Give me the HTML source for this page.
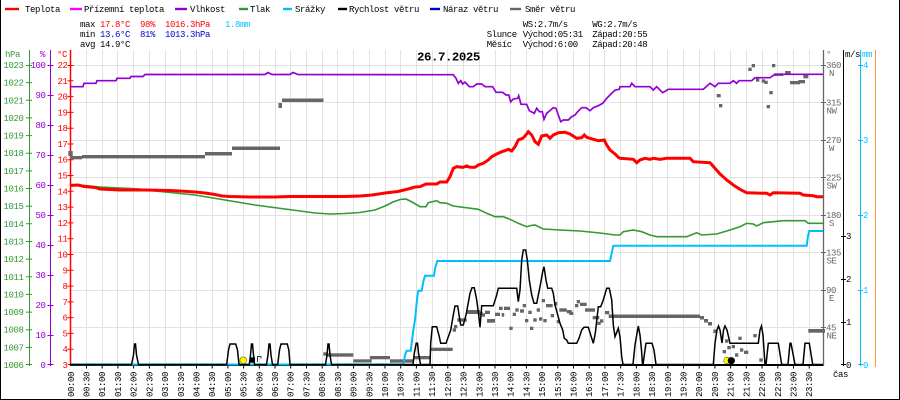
<!DOCTYPE html>
<html><head><meta charset="utf-8">
<style>
html,body{margin:0;padding:0;background:#fff;}
svg{display:block;}
text{font-family:"Liberation Mono","DejaVu Sans Mono",monospace;font-size:9px;letter-spacing:-0.4px;}
.b{font-weight:bold;font-size:12.4px;letter-spacing:-0.45px;}
</style></head><body>
<svg width="900" height="400" viewBox="0 0 900 400" xmlns="http://www.w3.org/2000/svg">
<rect width="900" height="400" fill="#fff"/>
<!-- border -->
<path d="M0.5 0V399.5H899.5V0" fill="none" stroke="#000" stroke-width="1"/>

<!-- grid -->
<g fill="#e2e2e2">
<rect x="86" y="50" width="1" height="315"/><rect x="102" y="50" width="1" height="315"/><rect x="117" y="50" width="1" height="315"/><rect x="133" y="50" width="1" height="315"/><rect x="149" y="50" width="1" height="315"/><rect x="165" y="50" width="1" height="315"/><rect x="180" y="50" width="1" height="315"/><rect x="196" y="50" width="1" height="315"/><rect x="212" y="50" width="1" height="315"/><rect x="227" y="50" width="1" height="315"/><rect x="243" y="50" width="1" height="315"/><rect x="259" y="50" width="1" height="315"/><rect x="275" y="50" width="1" height="315"/><rect x="290" y="50" width="1" height="315"/><rect x="306" y="50" width="1" height="315"/><rect x="322" y="50" width="1" height="315"/><rect x="337" y="50" width="1" height="315"/><rect x="353" y="50" width="1" height="315"/><rect x="369" y="50" width="1" height="315"/><rect x="385" y="50" width="1" height="315"/><rect x="400" y="50" width="1" height="315"/><rect x="416" y="50" width="1" height="315"/><rect x="432" y="50" width="1" height="315"/><rect x="447" y="50" width="1" height="315"/><rect x="463" y="50" width="1" height="315"/><rect x="479" y="50" width="1" height="315"/><rect x="495" y="50" width="1" height="315"/><rect x="510" y="50" width="1" height="315"/><rect x="526" y="50" width="1" height="315"/><rect x="542" y="50" width="1" height="315"/><rect x="557" y="50" width="1" height="315"/><rect x="573" y="50" width="1" height="315"/><rect x="589" y="50" width="1" height="315"/><rect x="604" y="50" width="1" height="315"/><rect x="620" y="50" width="1" height="315"/><rect x="636" y="50" width="1" height="315"/><rect x="652" y="50" width="1" height="315"/><rect x="667" y="50" width="1" height="315"/><rect x="683" y="50" width="1" height="315"/><rect x="699" y="50" width="1" height="315"/><rect x="714" y="50" width="1" height="315"/><rect x="730" y="50" width="1" height="315"/><rect x="746" y="50" width="1" height="315"/><rect x="762" y="50" width="1" height="315"/><rect x="777" y="50" width="1" height="315"/><rect x="793" y="50" width="1" height="315"/><rect x="809" y="50" width="1" height="315"/>
<rect x="70" y="65" width="753" height="1"/><rect x="70" y="102" width="753" height="1"/><rect x="70" y="140" width="753" height="1"/><rect x="70" y="177" width="753" height="1"/><rect x="70" y="215" width="753" height="1"/><rect x="70" y="252" width="753" height="1"/><rect x="70" y="290" width="753" height="1"/><rect x="70" y="327" width="753" height="1"/>
</g>

<!-- legend -->
<g stroke-width="2.4">
<line x1="5" y1="9" x2="19" y2="9" stroke="#ff0000"/>
<line x1="70" y1="9" x2="82" y2="9" stroke="#ff00ff"/>
<line x1="175" y1="9" x2="187" y2="9" stroke="#9400d3"/>
<line x1="239" y1="9" x2="248" y2="9" stroke="#339933"/>
<line x1="283" y1="9" x2="292" y2="9" stroke="#00bfff"/>
<line x1="338" y1="9" x2="347" y2="9" stroke="#000"/>
<line x1="430" y1="9" x2="440" y2="9" stroke="#0000cc"/>
<line x1="510" y1="9" x2="521" y2="9" stroke="#666"/>
</g>
<text x="25" y="12">Teplota</text>
<text x="84" y="12">Přízemní teplota</text>
<text x="190" y="12">Vlhkost</text>
<text x="250" y="12">Tlak</text>
<text x="295" y="12">Srážky</text>
<text x="349" y="12">Rychlost větru</text>
<text x="443" y="12">Náraz větru</text>
<text x="525" y="12">Směr větru</text>

<!-- stats -->
<text x="80" y="27">max</text>
<text x="100" y="27" fill="#ff0000">17.8°C</text>
<text x="140" y="27" fill="#ff0000">98%</text>
<text x="165" y="27" fill="#ff0000">1016.3hPa</text>
<text x="225" y="27" fill="#00bfff">1.8mm</text>
<text x="80" y="37">min</text>
<text x="100" y="37" fill="#0000cc">13.6°C</text>
<text x="140" y="37" fill="#0000cc">81%</text>
<text x="165" y="37" fill="#0000cc">1013.3hPa</text>
<text x="80" y="47">avg</text>
<text x="100" y="47">14.9°C</text>

<text x="522.7" y="27">WS:2.7m/s</text>
<text x="592.3" y="27">WG:2.7m/s</text>
<text x="486.7" y="37">Slunce</text>
<text x="522.7" y="37">Východ:05:31</text>
<text x="592.3" y="37">Západ:20:55</text>
<text x="486.7" y="47">Měsíc</text>
<text x="522.7" y="47">Východ:6:00</text>
<text x="592.3" y="47">Západ:20:48</text>

<text class="b" x="417" y="60.5">26.7.2025</text>

<!-- axis headers -->
<text x="5" y="57" fill="#339933">hPa</text>
<text x="40" y="57" fill="#9400d3">%</text>
<text x="57" y="57" fill="#ff0000">°C</text>
<text x="826" y="57" fill="#666">°</text>
<text x="845" y="57">m/s</text>
<text x="862" y="57" fill="#00bfff">mm</text>

<!-- axis lines -->
<line x1="29.5" y1="50" x2="29.5" y2="366" stroke="#339933"/>
<line x1="50.5" y1="50" x2="50.5" y2="366" stroke="#9400d3"/>
<line x1="70.5" y1="50" x2="70.5" y2="366" stroke="#ff0000" stroke-width="1.5"/>
<line x1="823.5" y1="50" x2="823.5" y2="366" stroke="#666" stroke-width="1.3"/>
<line x1="843.5" y1="50" x2="843.5" y2="366" stroke="#000"/>
<line x1="860.5" y1="50" x2="860.5" y2="366" stroke="#00bfff"/>
<line x1="875.5" y1="50" x2="875.5" y2="367" stroke="#ff9933"/>

<!-- ticks -->
<path stroke="#339933" d="M26 65.5h6M26 82.6h6M26 100.3h6M26 117.9h6M26 135.6h6M26 153.2h6M26 170.9h6M26 188.5h6M26 206.2h6M26 223.8h6M26 241.5h6M26 259.1h6M26 276.8h6M26 294.4h6M26 312.1h6M26 329.7h6M26 347.4h6M26 364.5h6"/>
<path stroke="#9400d3" d="M47.5 65.5h6M47.5 95.5h6M47.5 125.5h6M47.5 155.5h6M47.5 185.5h6M47.5 215.5h6M47.5 245.5h6M47.5 275.5h6M47.5 305.5h6M47.5 335.5h6M47.5 364.5h6"/>
<path stroke="#ff0000" d="M67.5 65.5h6M67.5 80.8h6M67.5 96.6h6M67.5 112.4h6M67.5 128.2h6M67.5 144h6M67.5 159.7h6M67.5 175.5h6M67.5 191.3h6M67.5 207.1h6M67.5 222.9h6M67.5 238.7h6M67.5 254.5h6M67.5 270.3h6M67.5 286.1h6M67.5 301.9h6M67.5 317.6h6M67.5 333.4h6M67.5 349.2h6M67.5 364.5h6"/>
<path stroke="#666" d="M821 65.5h5M821 102.5h5M821 140.5h5M821 177.5h5M821 215.5h5M821 252.5h5M821 290.5h5M821 327.5h5"/>
<path stroke="#000" d="M841 322.5h5M841 279.5h5M841 236.5h5M841 364.5h5"/>
<path stroke="#00bfff" d="M858 65.5h5M858 140.5h5M858 215.5h5M858 290.5h5M858 364.5h5"/>

<!-- left tick labels -->
<g fill="#339933" text-anchor="end">
<text x="23.5" y="68">1023</text><text x="23.5" y="85.6">1022</text><text x="23.5" y="103.3">1021</text><text x="23.5" y="120.9">1020</text><text x="23.5" y="138.6">1019</text><text x="23.5" y="156.2">1018</text><text x="23.5" y="173.9">1017</text><text x="23.5" y="191.5">1016</text><text x="23.5" y="209.2">1015</text><text x="23.5" y="226.8">1014</text><text x="23.5" y="244.5">1013</text><text x="23.5" y="262.1">1012</text><text x="23.5" y="279.8">1011</text><text x="23.5" y="297.4">1010</text><text x="23.5" y="315.1">1009</text><text x="23.5" y="332.7">1008</text><text x="23.5" y="350.4">1007</text><text x="23.5" y="368">1006</text>
</g>
<g fill="#9400d3" text-anchor="end">
<text x="45.5" y="68">100</text><text x="45.5" y="98">90</text><text x="45.5" y="128">80</text><text x="45.5" y="158">70</text><text x="45.5" y="188">60</text><text x="45.5" y="218">50</text><text x="45.5" y="248">40</text><text x="45.5" y="278">30</text><text x="45.5" y="308">20</text><text x="45.5" y="338">10</text><text x="45.5" y="368">0</text>
</g>
<g fill="#ff0000" text-anchor="end">
<text x="67.5" y="68">22</text><text x="67.5" y="83.8">21</text><text x="67.5" y="99.6">20</text><text x="67.5" y="115.4">19</text><text x="67.5" y="131.2">18</text><text x="67.5" y="147">17</text><text x="67.5" y="162.7">16</text><text x="67.5" y="178.5">15</text><text x="67.5" y="194.3">14</text><text x="67.5" y="210.1">13</text><text x="67.5" y="225.9">12</text><text x="67.5" y="241.7">11</text><text x="67.5" y="257.5">10</text><text x="67.5" y="273.3">9</text><text x="67.5" y="289.1">8</text><text x="67.5" y="304.9">7</text><text x="67.5" y="320.6">6</text><text x="67.5" y="336.4">5</text><text x="67.5" y="352.2">4</text><text x="67.5" y="368">3</text>
</g>

<!-- right tick labels -->
<g fill="#666">
<text x="826" y="68">360</text><text x="826" y="105.5">315</text><text x="826" y="143">270</text><text x="826" y="180.5">225</text><text x="826" y="218">180</text><text x="826" y="255.5">135</text><text x="826" y="293">90</text><text x="826" y="330.5">45</text>
</g>
<g fill="#666" text-anchor="middle">
<text x="831.5" y="76">N</text><text x="831.5" y="113.5">NW</text><text x="831.5" y="151">W</text><text x="831.5" y="188.5">SW</text><text x="831.5" y="226">S</text><text x="831.5" y="263.5">SE</text><text x="831.5" y="301">E</text><text x="831.5" y="338.5">NE</text>
</g>
<g fill="#000">
<text x="846" y="368">0</text><text x="846" y="325">1</text><text x="846" y="282">2</text><text x="846" y="239">3</text>
</g>
<g fill="#00bfff">
<text x="863" y="68">4</text><text x="863" y="143">3</text><text x="863" y="218">2</text><text x="863" y="293">1</text><text x="863" y="368">0</text>
</g>
<text x="833" y="377">čas</text>

<!-- x axis -->
<line x1="70" y1="365" x2="823" y2="365" stroke="#000" stroke-width="2"/>
<path stroke="#000" d="M86.5 366v2.5M102.2 366v2.5M117.9 366v2.5M133.6 366v2.5M149.4 366v2.5M165.1 366v2.5M180.8 366v2.5M196.5 366v2.5M212.2 366v2.5M227.9 366v2.5M243.6 366v2.5M259.3 366v2.5M275 366v2.5M290.7 366v2.5M306.5 366v2.5M322.2 366v2.5M337.9 366v2.5M353.6 366v2.5M369.3 366v2.5M385 366v2.5M400.7 366v2.5M416.4 366v2.5M432.1 366v2.5M447.8 366v2.5M463.6 366v2.5M479.3 366v2.5M495 366v2.5M510.7 366v2.5M526.4 366v2.5M542.1 366v2.5M557.8 366v2.5M573.5 366v2.5M589.2 366v2.5M604.9 366v2.5M620.7 366v2.5M636.4 366v2.5M652.1 366v2.5M667.8 366v2.5M683.5 366v2.5M699.2 366v2.5M714.9 366v2.5M730.6 366v2.5M746.3 366v2.5M762 366v2.5M777.8 366v2.5M793.5 366v2.5M809.2 366v2.5"/>
<g>
<text transform="translate(73.8,397) rotate(-90)">00:00</text>
<text transform="translate(89.5,397) rotate(-90)">00:30</text>
<text transform="translate(105.2,397) rotate(-90)">01:00</text>
<text transform="translate(120.9,397) rotate(-90)">01:30</text>
<text transform="translate(136.6,397) rotate(-90)">02:00</text>
<text transform="translate(152.4,397) rotate(-90)">02:30</text>
<text transform="translate(168.1,397) rotate(-90)">03:00</text>
<text transform="translate(183.8,397) rotate(-90)">03:30</text>
<text transform="translate(199.5,397) rotate(-90)">04:00</text>
<text transform="translate(215.2,397) rotate(-90)">04:30</text>
<text transform="translate(230.9,397) rotate(-90)">05:00</text>
<text transform="translate(246.6,397) rotate(-90)">05:30</text>
<text transform="translate(262.3,397) rotate(-90)">06:00</text>
<text transform="translate(278,397) rotate(-90)">06:30</text>
<text transform="translate(293.7,397) rotate(-90)">07:00</text>
<text transform="translate(309.5,397) rotate(-90)">07:30</text>
<text transform="translate(325.2,397) rotate(-90)">08:00</text>
<text transform="translate(340.9,397) rotate(-90)">08:30</text>
<text transform="translate(356.6,397) rotate(-90)">09:00</text>
<text transform="translate(372.3,397) rotate(-90)">09:30</text>
<text transform="translate(388,397) rotate(-90)">10:00</text>
<text transform="translate(403.7,397) rotate(-90)">10:30</text>
<text transform="translate(419.4,397) rotate(-90)">11:00</text>
<text transform="translate(435.1,397) rotate(-90)">11:30</text>
<text transform="translate(450.8,397) rotate(-90)">12:00</text>
<text transform="translate(466.6,397) rotate(-90)">12:30</text>
<text transform="translate(482.3,397) rotate(-90)">13:00</text>
<text transform="translate(498,397) rotate(-90)">13:30</text>
<text transform="translate(513.7,397) rotate(-90)">14:00</text>
<text transform="translate(529.4,397) rotate(-90)">14:30</text>
<text transform="translate(545.1,397) rotate(-90)">15:00</text>
<text transform="translate(560.8,397) rotate(-90)">15:30</text>
<text transform="translate(576.5,397) rotate(-90)">16:00</text>
<text transform="translate(592.2,397) rotate(-90)">16:30</text>
<text transform="translate(607.9,397) rotate(-90)">17:00</text>
<text transform="translate(623.7,397) rotate(-90)">17:30</text>
<text transform="translate(639.4,397) rotate(-90)">18:00</text>
<text transform="translate(655.1,397) rotate(-90)">18:30</text>
<text transform="translate(670.8,397) rotate(-90)">19:00</text>
<text transform="translate(686.5,397) rotate(-90)">19:30</text>
<text transform="translate(702.2,397) rotate(-90)">20:00</text>
<text transform="translate(717.9,397) rotate(-90)">20:30</text>
<text transform="translate(733.6,397) rotate(-90)">21:00</text>
<text transform="translate(749.3,397) rotate(-90)">21:30</text>
<text transform="translate(765,397) rotate(-90)">22:00</text>
<text transform="translate(780.8,397) rotate(-90)">22:30</text>
<text transform="translate(796.5,397) rotate(-90)">23:00</text>
<text transform="translate(812.2,397) rotate(-90)">23:30</text>
</g>

<!-- wind direction -->
<g fill="#666">
<rect x="68.3" y="151" width="4.4" height="5"/>
<rect x="70" y="156" width="12" height="3.3"/>
<rect x="82" y="155" width="123" height="3.4"/>
<rect x="205" y="152" width="27" height="3.5"/>
<rect x="232" y="146.5" width="48" height="3.5"/>
<rect x="278.5" y="103" width="3.5" height="5"/>
<rect x="282" y="98.5" width="41.5" height="3.5"/>
<rect x="323.3" y="352.3" width="4" height="3.4"/>
<rect x="327" y="353.3" width="26.3" height="3.4"/>
<rect x="353.3" y="359.3" width="18.4" height="3.2"/>
<rect x="370" y="356" width="20" height="3.3"/>
<rect x="390" y="359.3" width="23.3" height="3.4"/>
<rect x="413.3" y="356" width="16.7" height="3.3"/>
<rect x="430.7" y="347.7" width="22" height="3.3"/>
<rect x="452.7" y="328.3" width="3.3" height="3.4"/>
<rect x="454" y="325" width="3.3" height="3.3"/>
<rect x="457.3" y="318.3" width="9.4" height="3.4"/>
<rect x="466.7" y="310" width="13.3" height="4"/>
<rect x="479.3" y="311.7" width="3.4" height="3.3"/>
<rect x="481.7" y="313.3" width="3.3" height="3.4"/>
<rect x="485" y="310.7" width="5" height="3.3"/>
<rect x="487" y="319" width="8" height="3.7"/>
<rect x="495" y="312.7" width="5" height="3.3"/>
<rect x="499" y="306.7" width="3.7" height="3.3"/>
<rect x="501.7" y="313" width="2.5" height="3.7"/>
<rect x="504" y="306.7" width="6" height="3.3"/>
<rect x="509.3" y="326.7" width="3.4" height="3.3"/>
<rect x="512.7" y="312.7" width="3.3" height="3.3"/>
<rect x="515.3" y="308.3" width="3.4" height="3.4"/>
<rect x="520" y="309.3" width="4" height="3.4"/>
<rect x="522.7" y="304" width="3.3" height="3.3"/>
<rect x="525" y="319" width="3.3" height="3.3"/>
<rect x="528.3" y="310.7" width="3.4" height="3.3"/>
<rect x="530" y="326.7" width="3.3" height="3.3"/>
<rect x="533.3" y="318.3" width="3.4" height="3.4"/>
<rect x="536.7" y="308.3" width="3.3" height="3.4"/>
<rect x="539" y="317.3" width="3.3" height="3.4"/>
<rect x="541.7" y="299" width="3.3" height="3.3"/>
<rect x="543.3" y="319" width="3.4" height="3.3"/>
<rect x="546" y="304" width="6.7" height="3.3"/>
<rect x="550.7" y="314" width="3.3" height="3.3"/>
<rect x="554" y="302" width="3.3" height="3.3"/>
<rect x="556.7" y="320" width="3.3" height="3.3"/>
<rect x="559.3" y="308.3" width="7.4" height="3.4"/>
<rect x="566.7" y="310" width="5" height="3.3"/>
<rect x="569.3" y="311.7" width="4" height="3.3"/>
<rect x="575" y="304" width="3.3" height="3.3"/>
<rect x="576.7" y="300" width="3.3" height="3.3"/>
<rect x="580" y="302.7" width="6.7" height="3.3"/>
<rect x="585" y="308.3" width="10" height="3.4"/>
<rect x="592.7" y="316" width="6.6" height="3.3"/>
<rect x="597.3" y="321.7" width="3.4" height="3.3"/>
<rect x="600" y="319.3" width="3.3" height="3.4"/>
<rect x="605" y="311" width="4.3" height="3.3"/>
<rect x="608.7" y="314.5" width="91.3" height="3.5"/>
<rect x="700" y="316" width="4" height="3.5"/>
<rect x="704" y="319" width="4" height="3.5"/>
<rect x="708" y="322" width="4" height="3.5"/>
<rect x="713.3" y="329.5" width="3.4" height="3.5"/>
<rect x="722.7" y="350" width="3.3" height="3.3"/>
<rect x="725" y="339.3" width="3.3" height="3.4"/>
<rect x="727.3" y="346" width="3.4" height="3.3"/>
<rect x="731.7" y="345" width="3.3" height="3.3"/>
<rect x="735" y="353.3" width="3.3" height="3.4"/>
<rect x="738.3" y="336.7" width="3.4" height="3.3"/>
<rect x="740" y="348.3" width="3.3" height="3.4"/>
<rect x="744" y="350.7" width="4.3" height="3.3"/>
<rect x="753.3" y="334" width="3.4" height="3.3"/>
<rect x="759.3" y="358.3" width="3.4" height="3.4"/>
<rect x="808.3" y="329" width="16.7" height="3.7"/>
<rect x="748.3" y="67.7" width="3.4" height="3.3"/>
<rect x="751.7" y="64" width="3.3" height="3.3"/>
<rect x="716.7" y="94" width="4" height="3.3"/>
<rect x="719" y="104" width="3.3" height="3.3"/>
<rect x="756" y="78.3" width="3.3" height="3.4"/>
<rect x="761.7" y="79.3" width="3.3" height="3.4"/>
<rect x="764.3" y="80.7" width="3.4" height="3.3"/>
<rect x="766.7" y="105" width="3.3" height="3.3"/>
<rect x="769.3" y="91" width="3.4" height="3.3"/>
<rect x="772" y="64" width="3.3" height="3.3"/>
<rect x="774" y="73.3" width="9.3" height="2.7"/>
<rect x="785" y="71" width="5.7" height="3"/>
<rect x="790" y="81" width="10" height="3.3"/>
<rect x="798.3" y="80" width="6.7" height="3.3"/>
<rect x="803.3" y="75" width="5" height="3.3"/>
</g>

<!-- humidity -->
<polyline fill="none" stroke="#9400d3" stroke-width="1.7" points="70,86.7 83,86.7 84,83.3 96,83.3 97,80.7 116,80.7 117,78.3 130,78.3 131,76.5 143,76.5 145,74.5 265,74.5 268,72.5 272,74.5 290,74.5 293,72.5 298,74.5 420,74.7 453.3,74.7 456,78.3 458.3,83.3 460.7,80.7 462.7,84 465,82 469.3,86.7 473.3,86.7 476.7,84 481.7,84 485,86.7 492.7,86.7 496,92.3 502.7,92.3 506,95 508.7,95 510.7,101.7 513.3,99 517.7,98.3 518.7,95.7 521,104.3 526.7,104.3 529.3,110.7 534.3,113.3 536.7,108.3 539.3,111.7 542.3,111.7 544,119.3 546.7,113.3 550.7,110 553.3,107.7 556,108.3 558.3,115 560.7,121.7 563.3,120 568.3,120 571.7,116.7 575,115 577.7,111.7 581.7,107.7 586,107.7 590,110.7 593.3,107.7 598.3,105.7 602.7,103.3 606.7,98.3 611.7,93.3 615.3,90 619.3,89.3 620,86.7 630,86.7 631.7,83.3 635,86.7 650,86.7 653.3,90 656.7,86.7 662.7,92.7 668.3,89.3 703.3,89.3 710,83.3 715,86.7 718.3,83.3 730,83.3 733.3,80.7 736.7,83.3 739,80.7 751.7,80.7 755,77.7 770,77.7 775,74.3 823,74.3"/>

<!-- pressure -->
<polyline fill="none" stroke="#339933" stroke-width="1.6" points="70,184.5 80,185 90,186 100,187 120,188 140,189 150,190.5 165,192 180,193.5 195,195 210,197.5 225,200 240,202.5 255,205 270,207 285,209 300,211 315,213 330,214 345,213.5 360,212.5 375,210 385,206 393,202 400,199.5 406,199 412,202 418,205.5 420,206.7 426,206.7 428.3,202.7 436.7,200.7 440,202.7 446.7,203.3 453.3,206 478.3,209.3 486.7,213.3 495,216.7 503.3,216.7 510,219.3 518.3,223.3 526.7,226.7 531,225.5 535,225 543.3,229 560,230 580,231 600,233 615,235 620,235 623.3,231.7 633.3,230 641.7,231.7 650,235 656.7,236.7 686.7,236.7 696.7,232.7 701.7,235 716.7,234 730,230 740,226.7 746.7,223.3 753.3,224 756.7,226 763.3,222.7 783.3,220.7 805,220.7 808.3,223.3 823,223.3"/>

<!-- temperature -->
<polyline fill="none" stroke="#ff0000" stroke-width="3" points="70,185.5 78,185 84,186.5 95,187.5 100,189 120,190 145,190 170,190.5 180,191 195,192 205,193 215,194.5 222,196 230,196.5 250,197 275,197 290,196.5 320,196.5 345,196.5 360,196 372,195 385,193 398,191.5 408,189 415,187 420,186.7 426,184 436.7,184 440,182 446.7,182 450,176.7 453.3,168.3 456.7,166.7 463,167.3 466.7,166 470,167.3 475,167.3 478.3,165 483.3,163.3 488.3,160 491.7,156.7 496.7,154 501.7,151.7 505,150.7 508.3,149.3 511.7,151 515,146.7 518.3,140 522.7,138.3 525,136 528.3,131.7 531.7,135 535,141.7 538.3,144.3 541.7,136 546.7,135 550,138.3 553.3,135 558.3,132.7 565,132.3 570,134 576.7,138.3 581.7,137.7 584.3,135 586.7,137.3 593.3,139.3 598.3,140.7 604.3,140 606.7,145 610,150 615,154 618.3,157.3 620,158.3 633.3,159.3 636.7,162.7 640,160 645,158.3 650,159.3 653.3,158.3 660,159.3 666.7,158.3 690,158.3 693.3,161.7 710,162.7 715,168.3 720,174 726.7,180 733.3,185 740,189.3 746.7,192.7 766.7,193.3 770,195 773.3,192.7 800,193.3 803.3,195 813.3,195.7 816.7,196.7 823,196.7"/>

<!-- precipitation -->
<polyline fill="none" stroke="#00bfff" stroke-width="2" points="70,364.5 403.3,364.5 405,355 406.7,350.7 410.7,350.7 411.7,343.3 413.3,330 415,320 417.3,296.7 418.3,290.7 421.7,290.7 423.3,281.7 425,275.7 434,275.7 435,268.3 437.3,261 610,261 613.3,245.7 806.7,245.7 808,236 809.3,231 823,231"/>

<!-- wind speed -->
<polyline fill="none" stroke="#000" stroke-width="1.5" points="70,364.5 131.5,364.5 133.5,355 134.5,344 135.5,344 136.5,355 138.5,364.5 226.7,364.5 228.5,350 230,344 235.7,344 237.5,350 239,364.5 249.3,364.5 250.5,355 251.5,344 252.5,344 253.5,355 254.5,364.5 266.5,364.5 268,355 269,344 270,344 271,355 272.5,364.5 277.7,364.5 279.5,350 281,344 287.3,344 288.8,350 290,364.5 325.5,364.5 327,355 328,344 329,344 330,355 331.5,364.5 413,364.5 414.3,353.3 416.2,343.3 417.5,343.3 418.5,353 420.5,364.5 430,364.5 430.7,343.3 432.3,326.7 436.7,326.7 439.3,336.7 440.7,343.3 446,343.3 448.3,336.7 450.7,330 453.3,315 455,306 457.7,306 459.3,316.7 460.7,325 463.3,325 466,315 468.3,302.7 470,293.3 472,287.7 474.3,287.7 476.7,300 478.7,315 480,327.3 481.7,305.7 493.3,305.7 496.7,295 498.3,288.3 516.7,288.3 518.3,301.7 520,290 521.7,260 523.3,250 525.7,250 527.3,260 529.3,280 531.7,295 534,303.3 536.7,303.3 540,286.7 542.7,271.7 544,266.7 546,280 547.7,288.3 551.7,288.3 553.3,293.3 555,305 560,323.3 562.7,330 564.3,338.3 566.7,340 568.3,343.3 576.7,343.3 579,338.3 581.7,330 584,327.3 588.3,327.3 593.3,343.3 595.3,333.3 598.3,306.7 600.7,306.7 603.3,300 606.7,288.3 609.3,288.3 611.7,300 613.3,325 615,336.7 618.3,328.3 620,336.7 621.7,356.7 623,364.5 633,364.5 635,345 636.7,335 638.3,326 640,335 641.5,350 642.5,364.5 643,364.5 645,350 646,343.3 652,343.3 654,350 656,364.5 713.3,364.5 715,343.3 717,330 718.5,326 720,330 722,343 723.5,330 725,326 727,330 730,343.3 758.3,343.3 760,330 761.5,326 763,335 765,364.5 766,364.5 768.3,343.3 778.3,343.3 781.7,364.5 788,364.5 790,343.3 791,343.3 795,364.5 803,364.5 805,343.3 809.3,343.3 812.7,364.5 823,364.5"/>

<!-- sun / moon markers -->
<circle cx="243.3" cy="360.3" r="3.4" fill="#ffff00" stroke="#806000" stroke-width="0.6"/>
<rect x="250" y="357.3" width="5" height="5.4" fill="#000"/>
<path d="M257.5 362V356.5H261V358.5" fill="none" stroke="#000" stroke-width="0.8"/>
<circle cx="727" cy="360.5" r="3.3" fill="#ffff00" stroke="#806000" stroke-width="0.6"/>
<circle cx="731.3" cy="360.7" r="3.6" fill="#000"/>
</svg>
</body></html>
